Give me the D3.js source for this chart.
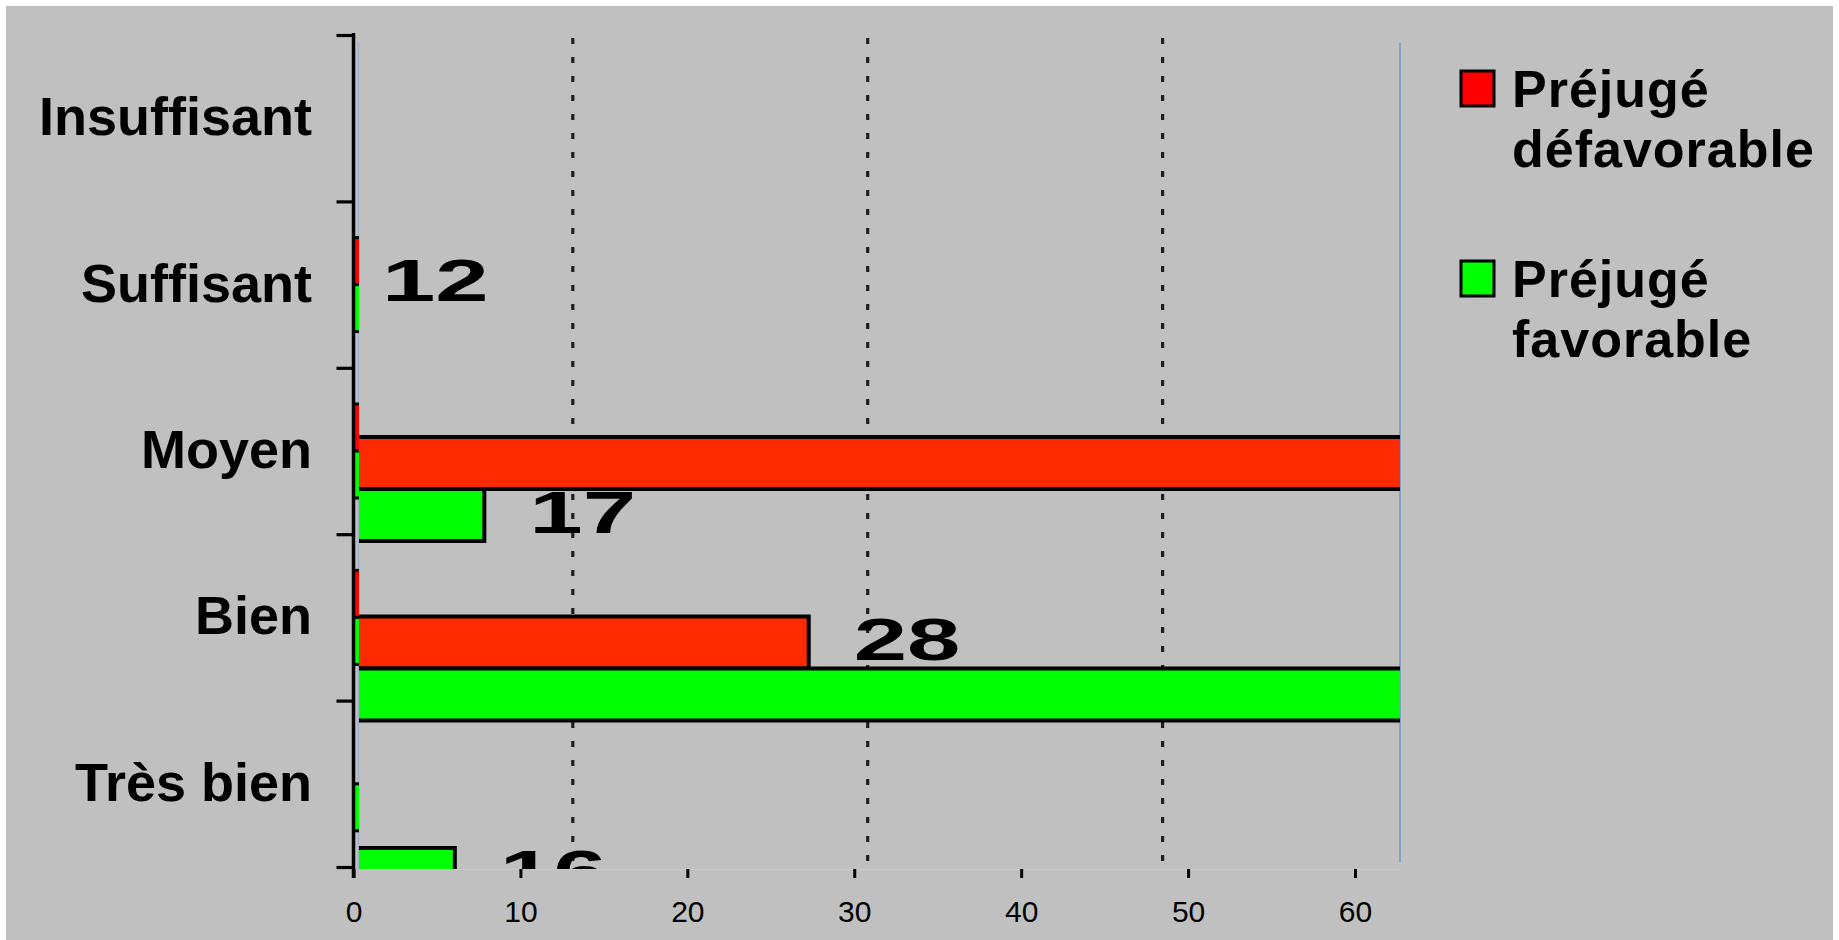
<!DOCTYPE html>
<html>
<head>
<meta charset="utf-8">
<script src="https://cdn.jsdelivr.net/npm/d3@7/dist/d3.min.js"></script>
<style>
  html, body { margin: 0; padding: 0; background: #ffffff; }
  svg { display: block; }
</style>
</head>
<body>
<script>
// Categories (top to bottom) and the two series
const categories = ["Insuffisant", "Suffisant", "Moyen", "Bien", "Très bien"];
const seriesKeys = ["def", "fav"];
const defavorable = [null, 12, 54, 28, null];
const favorable = [null, 4, 17, 58, 16];
const legendLines = [["Préjugé", "défavorable"], ["Préjugé", "favorable"]];
const axisTicks = [0, 10, 20, 30, 40, 50, 60];
const gridValues = [20, 30, 40];

const W = 1839, H = 940;
const colorsA = { def: "#ff0000", fav: "#00ff00" };
const colorsB = { def: "#ff2a00", fav: "#00ff00" };

const svg = d3.select("body").append("svg").attr("width", W).attr("height", H);
svg.append("rect").attr("x", 6).attr("y", 6).attr("width", 1827).attr("height", H - 6).attr("fill", "#c0c0c0");

const rows = categories.map((c, i) => ({ cat: c, def: defavorable[i], fav: favorable[i] }));
const cells = [];
rows.forEach(r => seriesKeys.forEach(k => { if (r[k] != null) cells.push({ cat: r.cat, key: k, value: r[k] }); }));

// Panel (plot area) bounds
const panel = { x0: 359, x1: 1400, y0: 36, y1: 869 };

// Main category axis scales
const yA = d3.scaleBand().domain(categories).range([35, 867]).paddingInner(0.435).paddingOuter(0.2175);
const sA = d3.scaleBand().domain(seriesKeys).range([0, yA.bandwidth()]);
const xA = d3.scaleLinear().domain([0, 60]).range([353.5, 1355]);

// Enlarged bar layer scales
const yB = d3.scaleBand().domain(categories).range([40.25, 937.75]).paddingInner(0.4206).paddingOuter(0.2103);
const sB = d3.scaleBand().domain(seriesKeys).range([0, yB.bandwidth()]);
const xB = d3.scaleLinear().domain([0, 40]).range([-17, 1162.6]);

const defs = svg.append("defs");
defs.append("clipPath").attr("id", "clipB").append("rect")
  .attr("x", panel.x0).attr("y", panel.y0).attr("width", panel.x1 - panel.x0).attr("height", panel.y1 - panel.y0);
defs.append("clipPath").attr("id", "clipA").append("rect")
  .attr("x", 355).attr("y", 0).attr("width", 4).attr("height", H);

// Panel edges
svg.append("line").attr("x1", 358.5).attr("x2", 358.5).attr("y1", 43).attr("y2", panel.y1)
  .attr("stroke", "#9fb2cc").attr("stroke-width", 1.5);
svg.append("line").attr("x1", 1400).attr("x2", 1400).attr("y1", 43).attr("y2", 862)
  .attr("stroke", "#6f98cc").attr("stroke-width", 1.5);
svg.append("line").attr("x1", panel.x0).attr("x2", 1400).attr("y1", panel.y1 + 0.5).attr("y2", panel.y1 + 0.5)
  .attr("stroke", "#c9c9c9").attr("stroke-width", 1);

const gB = svg.append("g").attr("clip-path", "url(#clipB)");

// Dotted vertical gridlines
gB.selectAll("line.grid").data(gridValues).join("line").attr("class", "grid")
  .attr("x1", d => xB(d)).attr("x2", d => xB(d))
  .attr("y1", 38).attr("y2", panel.y1)
  .attr("stroke", "#1e1e1e").attr("stroke-width", 3.2).attr("stroke-dasharray", "6,13");

// Value labels (drawn beneath the bars), stretched horizontally
const labelScaleX = 1.6, labelGap = 45, labelSize = 60;
const labelCells = cells.filter(d => {
  const x = xB(d.value) + labelGap;
  const w = String(d.value).length * 0.556 * labelSize * labelScaleX;
  return x < panel.x1 && x + w > panel.x0;
});
gB.selectAll("text.val").data(labelCells).join("text").attr("class", "val")
  .attr("transform", d => {
    const cy = yB(d.cat) + sB(d.key) + sB.bandwidth() / 2;
    return `translate(${xB(d.value) + labelGap},${cy + 17.5}) scale(${labelScaleX},1)`;
  })
  .attr("font-family", "'Liberation Sans', Arial, sans-serif")
  .attr("font-weight", "bold").attr("font-size", labelSize).attr("fill", "#000")
  .text(d => d.value);

// Bars
gB.selectAll("rect.bar").data(cells).join("rect").attr("class", "bar")
  .attr("x", xB(0))
  .attr("y", d => yB(d.cat) + sB(d.key))
  .attr("width", d => xB(d.value) - xB(0))
  .attr("height", sB.bandwidth())
  .attr("fill", d => colorsB[d.key])
  .attr("stroke", "#000").attr("stroke-width", 4);

// Bars on the category axis
const gA = svg.append("g").attr("clip-path", "url(#clipA)");
gA.selectAll("rect").data(cells).join("rect")
  .attr("x", xA(0))
  .attr("y", d => yA(d.cat) + sA(d.key))
  .attr("width", d => xA(d.value) - xA(0))
  .attr("height", sA.bandwidth())
  .attr("fill", d => colorsA[d.key])
  .attr("stroke", "#000").attr("stroke-width", 3);

// Left axis: line, ticks at band boundaries, category labels
const yEdge = d3.scaleLinear().domain([0, categories.length]).range(yA.range());
const leftAxis = svg.append("g").attr("transform", `translate(${xA(0)},0)`)
  .call(d3.axisLeft(yEdge).ticks(categories.length).tickSize(17).tickFormat(""));
leftAxis.select(".domain").remove();
leftAxis.selectAll(".tick line").attr("stroke", "#000").attr("stroke-width", 3.2);
svg.append("line").attr("x1", xA(0)).attr("x2", xA(0)).attr("y1", 33).attr("y2", 878)
  .attr("stroke", "#000").attr("stroke-width", 3.5);

svg.append("g").selectAll("text").data(categories).join("text")
  .attr("x", 312).attr("y", d => yA(d) + yA.bandwidth() / 2 + 17)
  .attr("text-anchor", "end")
  .attr("font-family", "'Liberation Sans', Arial, sans-serif")
  .attr("font-weight", "bold").attr("font-size", 54).attr("fill", "#000")
  .text(d => d);

// Bottom axis
const bottomAxis = svg.append("g").attr("transform", `translate(0,${panel.y1})`)
  .call(d3.axisBottom(xA).tickValues(axisTicks).tickSize(9).tickPadding(23));
bottomAxis.select(".domain").remove();
bottomAxis.selectAll(".tick line").attr("stroke", "#000").attr("stroke-width", 3);
bottomAxis.selectAll(".tick text")
  .attr("font-family", "'Liberation Sans Narrow', 'Liberation Sans', Arial, sans-serif")
  .attr("font-size", 30).attr("fill", "#000");

// Legend
const legend = svg.append("g");
const legendTop = [71, 261];
seriesKeys.forEach((k, i) => {
  const g = legend.append("g");
  g.append("rect").attr("x", 1461).attr("y", legendTop[i]).attr("width", 33).attr("height", 35)
    .attr("fill", colorsA[k]).attr("stroke", "#000").attr("stroke-width", 3);
  g.append("text")
    .attr("font-family", "'Liberation Sans', Arial, sans-serif")
    .attr("font-weight", "bold").attr("font-size", 52).attr("fill", "#000")
    .attr("letter-spacing", 1)
    .selectAll("tspan").data(legendLines[i]).join("tspan")
    .attr("x", 1512).attr("y", (d, j) => legendTop[i] + 36 + j * 60)
    .text(d => d);
});
</script>
</body>
</html>
